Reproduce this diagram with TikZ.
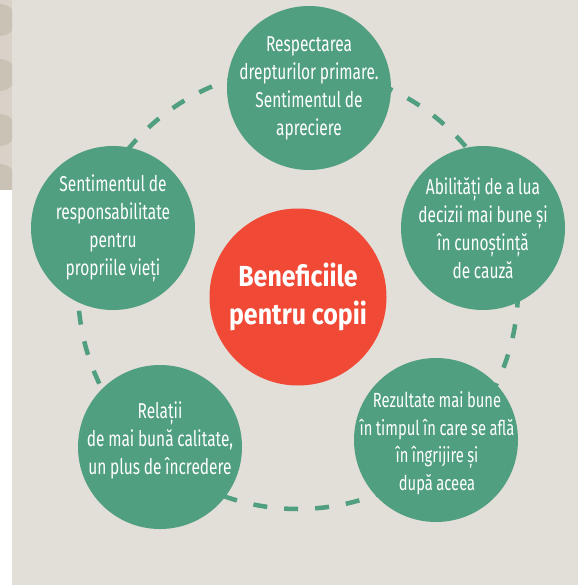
\documentclass[tikz,border=0pt]{standalone}
\usepackage{fontspec}
\setmainfont{Fira Sans}[FakeStretch=0.72]
\newfontfamily\corefont{Fira Sans}[FakeStretch=0.86]
\newcommand\tightspace{\spaceskip=0.17em\relax}
\definecolor{bgbeige}{RGB}{226,222,216}
\definecolor{stripbeige}{RGB}{216,210,200}
\definecolor{blobbeige}{RGB}{202,194,181}
\definecolor{leafgreen}{RGB}{79,159,128}
\definecolor{tomato}{RGB}{240,74,55}

\begin{document}
\begin{tikzpicture}[x=1pt, y=-1pt,
  benefit/.style = {circle, fill=leafgreen, inner sep=0pt, minimum size=164pt},
  bentext/.style = {text=white, inner sep=0pt, align=center,
    font=\fontsize{21.5}{28}\selectfont\tightspace},
  core/.style = {circle, fill=tomato, text=white, inner sep=0pt,
    minimum size=177pt, align=center, font=\corefont\fontsize{29}{38}\selectfont\bfseries}]
  \useasboundingbox (0,0) rectangle (578,585);
  \fill[white] (0,0) rectangle (578,585);
  \fill[bgbeige] (12,0) rectangle (578,585);
  \fill[stripbeige] (0,0) rectangle (12,190);
  \begin{scope}
    \clip (0,0) rectangle (12,190);
    \foreach \y in {20,75,130,180}
      \fill[blobbeige] (0,\y) circle[radius=16pt];
  \end{scope}
  \coordinate (ring) at (298,289);
  \draw[leafgreen, line width=4.5pt, dash pattern=on 14pt off 17pt] (ring) circle[radius=220pt];
  \node[benefit] (resp) at (309,88) {};
  \node[bentext] (resptext) at (resp) {Respectarea\\drepturilor primare.\\Sentimentul de\\apreciere};
  \node[benefit] (abil) at (483,228) {};
  \node[bentext] (abiltext) at (abil) {Abilități de a lua\\decizii mai bune și\\în cunoștință\\de cauză};
  \node[benefit] (rez) at (436,440) {};
  \node[bentext, font=\fontsize{20.5}{27.5}\selectfont\tightspace] (reztext) at (437,443) {Rezultate mai bune\\în timpul în care se află\\în îngrijire și\\după aceea};
  \node[benefit] (rel) at (160,447) {};
  \node[bentext] (reltext) at (160,440) {Relații\\de mai bună calitate,\\un plus de încredere};
  \node[benefit] (sent) at (113,228) {};
  \node[bentext] (senttext) at (sent) {Sentimentul de\\responsabilitate\\pentru\\propriile vieți};
  \node[core] (copii) at (298,297) {Beneficiile\\pentru copii};
\end{tikzpicture}
\end{document}
